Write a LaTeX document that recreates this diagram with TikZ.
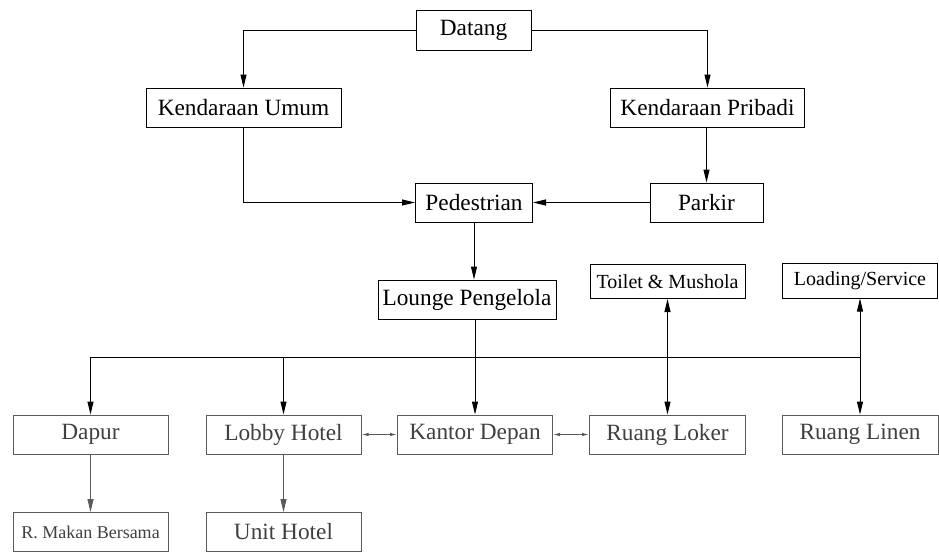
\documentclass[tikz,border=0pt]{standalone}
\usepackage{fontspec}
\setmainfont{Liberation Serif}
\usetikzlibrary{arrows.meta}
\definecolor{boxgrey}{HTML}{5A5A5A}
\definecolor{txtgrey}{HTML}{404040}
\tikzset{
  box/.style={draw=black, line width=1pt, inner sep=0pt, minimum height=39pt,
    font=\fontsize{23.3}{26}\selectfont, text=black},
  smallbox/.style={box, font=\fontsize{20}{22}\selectfont},
  lowbox/.style={box, draw=boxgrey, text=txtgrey},
  link/.style={line width=1pt, draw=black},
  arr/.style={link, -{Triangle[length=13pt,width=6pt]}},
  arrboth/.style={link, {Triangle[length=13pt,width=6pt]}-{Triangle[length=13pt,width=6pt]}},
  lowarr/.style={arr, draw=boxgrey, fill=boxgrey},
  side/.style={line width=1pt, draw=boxgrey,
    {Latex[length=7pt,width=3.5pt]}-{Latex[length=7pt,width=3.5pt]}}
}
\begin{document}
\begin{tikzpicture}[x=1pt, y=-1pt]
\useasboundingbox (0,0) rectangle (939,552);
\fill[white] (0,0) rectangle (939,552);

% arrival and access
\node[box, minimum width=115pt, minimum height=40pt] (dat) at (473.5,30) {Datang};
\node[box, minimum width=195pt] (ku) at (243.5,107.5) {Kendaraan Umum};
\node[box, minimum width=194pt] (kp) at (707.5,107.5) {Kendaraan Pribadi};
\node[box, minimum width=117pt] (ped) at (474,202.5) {Pedestrian};
\node[box, minimum width=113pt] (par) at (706.5,202.5) {Parkir};
\node[box, minimum width=178pt] (lou) at (467,299.5) {Lounge Pengelola};

% service rooms
\node[smallbox, minimum width=155pt, minimum height=34pt] (toi) at (667.5,281.5) {Toilet \& Mushola};
\node[smallbox, minimum width=155pt, minimum height=35pt] (load) at (860,280.5) {Loading/Service};

% ground floor rooms
\node[lowbox, minimum width=155pt] (dap) at (90.5,434.5) {Dapur};
\node[lowbox, minimum width=155pt] (lob) at (283.5,434.5) {Lobby Hotel};
\node[lowbox, minimum width=155pt] (kan) at (475,434.5) {Kantor Depan};
\node[lowbox, minimum width=156pt] (lok) at (667.5,434.5) {Ruang Loker};
\node[lowbox, minimum width=156pt] (lin) at (860,434.5) {Ruang Linen};
\node[lowbox, minimum width=155pt, font=\fontsize{18}{20}\selectfont] (mak) at (90.5,532) {R. Makan Bersama};
\node[lowbox, minimum width=155pt] (uni) at (283.5,532) {Unit Hotel};

% arrival routes
\draw[arr] (dat.west) -| (ku.north);
\draw[arr] (dat.east) -| (kp.north);
\draw[arr] (ku.south) |- (ped.west);
\draw[arr] (kp.south -| par.north) -- (par.north);
\draw[arr] (par.west) -- (ped.east);
\draw[arr] (ped.south) -- (ped.south |- lou.north);

% distribution bus
\coordinate (busL) at (90.5,357);
\coordinate (busR) at (860,357);
\draw[link] (busL) -- (busR);
\draw[link] (kan.north |- lou.south) -- (kan.north |- busL);
\draw[arr] (busL) -- (dap.north);
\draw[arr] (lob.north |- busL) -- (lob.north);
\draw[arr] (kan.north |- busL) -- (kan.north);
\draw[arrboth] (toi.south) -- (lok.north);
\draw[arrboth] (load.south) -- (lin.north);

% ground floor links
\draw[lowarr] (dap.south) -- (mak.north);
\draw[lowarr] (lob.south) -- (uni.north);
\draw[side] (lob.east) -- (kan.west);
\draw[side] (kan.east) -- (lok.west);
\end{tikzpicture}
\end{document}
